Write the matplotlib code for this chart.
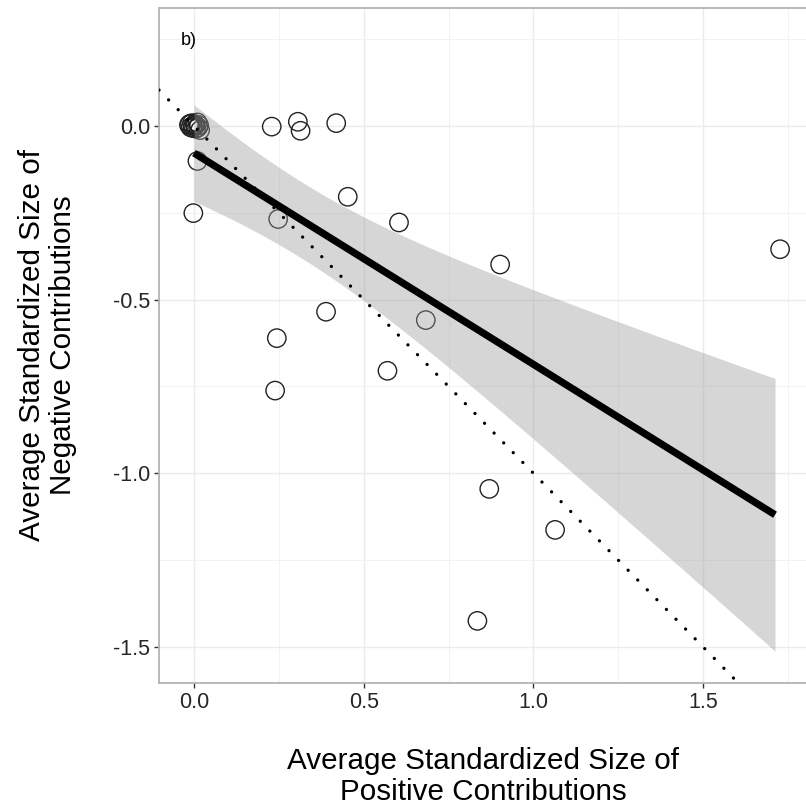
import numpy as np
import matplotlib
matplotlib.use('Agg')
import matplotlib.pyplot as plt

# points as they appear on the chart (cluster near the origin is jittered)
cluster_x = [-0.015, -0.010, -0.006, -0.003, 0.002, 0.006, 0.010, 0.015, 0.018,
             -0.012, -0.004, 0.004, 0.012]
cluster_y = [0.003, -0.004, 0.008, 0.000, 0.005, -0.008, 0.010, 0.002, -0.012,
             0.006, -0.006, 0.001, -0.004]
pos_x = [0.229, 0.306, 0.314, 0.419, 0.453, 0.604, 0.902, 0.248, 0.389, 0.683,
         0.244, 0.570, 0.239, 0.870, 1.064, 0.835, 1.727, 0.010, -0.002]
neg_y = [-0.002, 0.012, -0.014, 0.008, -0.204, -0.278, -0.399, -0.268, -0.535, -0.559,
         -0.611, -0.705, -0.762, -1.045, -1.163, -1.425, -0.355, -0.101, -0.251]
fit_range = [0.0, 1.712]
t_crit = 2.042  # t(0.975, df=30)

x_ticks = [0.0, 0.5, 1.0, 1.5]
y_ticks = [0.0, -0.5, -1.0, -1.5]
x_title = 'Average Standardized Size of\nPositive Contributions'
y_title = 'Average Standardized Size of\nNegative Contributions'

plt.rcParams['font.family'] = ['Liberation Sans', 'DejaVu Sans']
plt.rcParams['axes.unicode_minus'] = False


def lm_band(x, y, xs):
    # ordinary least squares with a 95% confidence band, like geom_smooth(method='lm')
    x = np.asarray(x)
    y = np.asarray(y)
    n = len(x)
    b, a = np.polyfit(x, y, 1)
    resid = y - (a + b * x)
    s = np.sqrt(np.sum(resid ** 2) / (n - 2))
    sxx = np.sum((x - x.mean()) ** 2)
    se = s * np.sqrt(1.0 / n + (xs - x.mean()) ** 2 / sxx)
    fit = a + b * xs
    return fit, fit - t_crit * se, fit + t_crit * se


def main():
    xs_all = cluster_x + pos_x
    ys_all = cluster_y + neg_y

    fig = plt.figure(figsize=(8.06, 8.10), dpi=100)
    ax = fig.add_axes([159 / 806, 1 - 682.7 / 810, (812 - 159) / 806, (682.7 - 8) / 810])

    ax.set_xlim(-0.1032, 1.821)
    ax.set_ylim(-1.603, 0.3395)

    ax.set_xticks(x_ticks)
    ax.set_yticks(y_ticks)
    ax.set_xticks([0.25, 0.75, 1.25, 1.75], minor=True)
    ax.set_yticks([0.25, -0.25, -0.75, -1.25], minor=True)
    ax.grid(which='major', color='#ebebeb', linewidth=1.0)
    ax.grid(which='minor', color='#f2f2f2', linewidth=0.7)
    ax.set_axisbelow(True)
    ax.tick_params(which='minor', length=0)
    ax.tick_params(which='major', length=3.5, width=1.0, color='#333333',
                   labelsize=15.5, labelcolor='#262626', pad=3)

    for side in ['top', 'left', 'bottom', 'right']:
        ax.spines[side].set_color('#b3b3b3')
        ax.spines[side].set_linewidth(1.3)

    ax.scatter(xs_all, ys_all, s=175, facecolors='none', edgecolors='#222222',
               linewidths=1.0, zorder=2)

    xs = np.linspace(fit_range[0], fit_range[1], 80)
    fit, lo, hi = lm_band(xs_all, ys_all, xs)
    ax.fill_between(xs, lo, hi, color='#999999', alpha=0.4, linewidth=0, zorder=3)
    ax.plot(xs, fit, color='black', linewidth=5.2, solid_capstyle='butt', zorder=4)

    # reference line y = -x
    ref = np.array(ax.get_xlim())
    ax.plot(ref, -ref, color='black', linewidth=2.4, linestyle=(0, (0.01, 4.1)),
            dash_capstyle='round', zorder=5)

    ax.text(-0.038, 0.247, 'b)', fontsize=13, va='center', ha='left')

    ax.set_xlabel(x_title, fontsize=21.3, linespacing=1.15)
    ax.set_ylabel(y_title, fontsize=21.3, linespacing=1.15)
    ax.xaxis.set_label_coords((483 - 159) / (812 - 159), -(747 - 682.7) / (682.7 - 8))
    ax.yaxis.set_label_coords(-(159 - 77) / (812 - 159), (682.7 - 345) / (682.7 - 8))

    fig.savefig('out.png', dpi=100)


if __name__ == '__main__':
    main()
